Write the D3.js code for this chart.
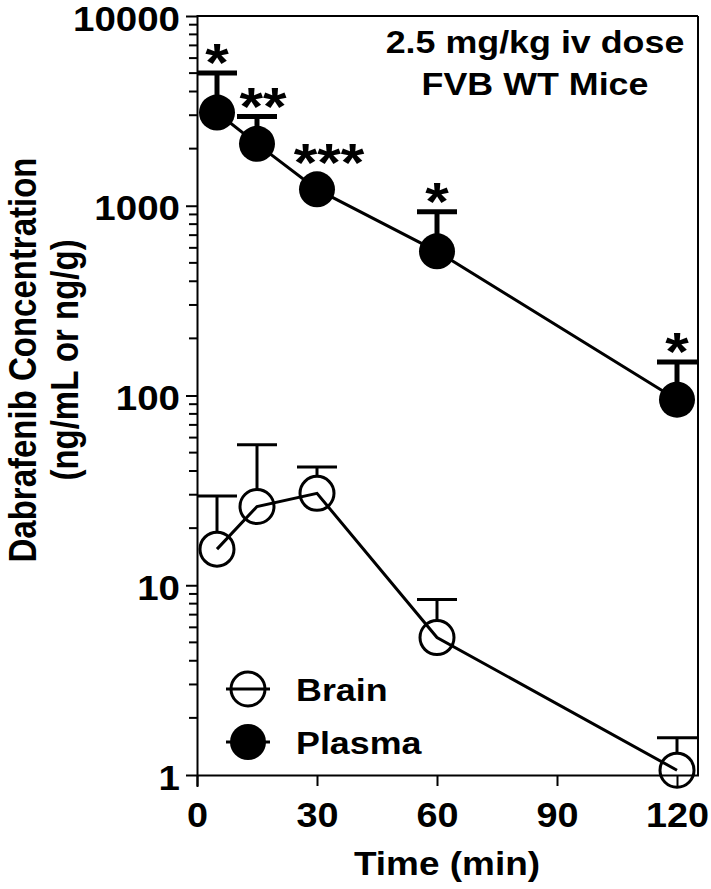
<!DOCTYPE html>
<html>
<head>
<meta charset="utf-8">
<script src="https://cdn.jsdelivr.net/npm/d3@7"></script>
<style>
  html, body { margin: 0; padding: 0; background: #fff; }
  svg text { font-family: "Liberation Sans", Arial, Helvetica, sans-serif; font-weight: bold; fill: #000; }
</style>
</head>
<body>
<svg id="chart" width="711" height="889"></svg>
<script>
// ---- data ----
const times = [5, 15, 30, 60, 120];
const plasmaMean = [3100, 2120, 1220, 575, 95];
const plasmaUpper = [5000, 2950, 1300, 930, 150];
const brainMean = [15.5, 26, 30.5, 5.3, 1.06];
const brainUpper = [29.5, 55, 42, 8.4, 1.57];
const sigLabels = ["*", "**", "***", "*", "*"];
const xTicks = [0, 30, 60, 90, 120];
const yTicks = [1, 10, 100, 1000, 10000];
const legendLabels = ["Brain", "Plasma"];
const annotation = ["2.5 mg/kg iv dose", "FVB WT Mice"];
const xTitle = "Time (min)";
const yTitle = ["Dabrafenib Concentration", "(ng/mL or ng/g)"];

// ---- layout ----
const L = 197, R = 697, T = 16, B = 775;
const SX = 1.12;           // horizontal stretch of the lettering
const svg = d3.select("#chart");
const x = d3.scaleLinear().domain([0, 125]).range([L, R]);
const y = d3.scaleLog().domain([1, 10000]).range([B, T]);

function label(px, py, str, size, anchor, sx) {
  return svg.append("text")
    .attr("transform", `translate(${px},${py}) scale(${sx || SX},1)`)
    .attr("text-anchor", anchor || "start")
    .style("font-size", size + "px").text(str);
}

// frame (top & right)
svg.append("line").attr("x1", L).attr("x2", R + 1).attr("y1", T).attr("y2", T)
  .attr("stroke", "#000").attr("stroke-width", 2);
svg.append("line").attr("x1", R + 1).attr("x2", R + 1).attr("y1", T).attr("y2", B)
  .attr("stroke", "#000").attr("stroke-width", 2);

// x axis
const xAxis = d3.axisBottom(x).tickValues(xTicks).tickSize(11).tickSizeOuter(0);
const gx = svg.append("g").attr("transform", `translate(0,${B})`).call(xAxis);
gx.select(".domain").attr("stroke-width", 2).attr("d", `M${L},0.5H${R + 2}`);
gx.selectAll(".tick line").attr("stroke-width", 2);
gx.selectAll(".tick text").attr("y", null).attr("dy", null)
  .attr("transform", `translate(0,52) scale(1.08,1)`)
  .style("font-size", "35px");

// y axis: minor ticks
const minor = [];
for (let d = 1; d < 10000; d *= 10) for (let k = 2; k <= 9; k++) minor.push(d * k);
svg.append("g").selectAll("line").data(minor).join("line")
  .attr("x1", L - 8).attr("x2", L).attr("y1", d => y(d)).attr("y2", d => y(d))
  .attr("stroke", "#000").attr("stroke-width", 2);
const yAxis = d3.axisLeft(y).tickValues(yTicks).tickFormat(d3.format("d")).tickSize(11).tickSizeOuter(0);
const gy = svg.append("g").attr("transform", `translate(${L},0)`).call(yAxis);
gy.select(".domain").attr("stroke-width", 2).attr("d", `M0.5,${T - 1}V${B + 12}`);
gy.selectAll(".tick line").attr("stroke-width", 2);
gy.selectAll(".tick text").attr("x", null).attr("dy", null)
  .attr("transform", `translate(-17,14) scale(1.1,1)`)
  .style("font-size", "35px");

// axis titles
label((L + R) / 2, 875, xTitle, 33, "middle");
yTitle.forEach((t, i) => {
  svg.append("text").attr("transform", `translate(${36 + i * 42},360) rotate(-90) scale(1,1.16)`)
    .attr("text-anchor", "middle").style("font-size", "33px").text(t);
});

// annotation
annotation.forEach((t, i) => label(535, 53 + i * 42, t, 32, "middle"));

const plasma = times.map((t, i) => ({ t, m: plasmaMean[i], u: plasmaUpper[i], s: sigLabels[i] }));
const brain = times.map((t, i) => ({ t, m: brainMean[i], u: brainUpper[i] }));
const line = d3.line().x(d => x(d.t)).y(d => y(d.m));
const R_M = 17;

// lines
svg.append("path").datum(plasma).attr("d", line).attr("fill", "none").attr("stroke", "#000").attr("stroke-width", 3);
svg.append("path").datum(brain).attr("d", line).attr("fill", "none").attr("stroke", "#000").attr("stroke-width", 3);

// error bars
function errBars(data, sw, fromEdge) {
  const g = svg.append("g").attr("stroke", "#000").attr("stroke-width", sw);
  const hidden = d => (y(d.m) - R_M <= y(d.u) ? "none" : null);
  g.selectAll(".v").data(data).join("line")
    .attr("x1", d => x(d.t)).attr("x2", d => x(d.t))
    .attr("y1", d => y(d.m) - (fromEdge ? R_M : 0)).attr("y2", d => y(d.u))
    .style("display", hidden);
  g.selectAll(".c").data(data).join("line")
    .attr("x1", d => x(d.t) - 20).attr("x2", d => x(d.t) + 20)
    .attr("y1", d => y(d.u)).attr("y2", d => y(d.u))
    .style("display", hidden);
}
errBars(plasma, 5, false);
errBars(brain, 3, true);

// markers
svg.append("g").selectAll("circle").data(brain).join("circle")
  .attr("cx", d => x(d.t)).attr("cy", d => y(d.m)).attr("r", R_M)
  .attr("fill", "none").attr("stroke", "#000").attr("stroke-width", 3);
svg.append("g").selectAll("circle").data(plasma).join("circle")
  .attr("cx", d => x(d.t)).attr("cy", d => y(d.m)).attr("r", R_M + 1)
  .attr("fill", "#000");

// significance asterisks
const AFS = 54;
plasma.forEach(d => {
  const top = Math.min(y(d.u), y(d.m) - R_M);
  const cy = top - 15;
  label(x(d.t) + (d.s.length - 1) * 6, cy + 0.43 * AFS, d.s, AFS, "middle");
});

// legend
const legY = [689, 742];
legendLabels.forEach((lab, i) => {
  const g = svg.append("g").attr("transform", `translate(248,${legY[i]})`);
  g.append("line").attr("x1", -22).attr("x2", 22).attr("stroke", "#000").attr("stroke-width", 3);
  if (i === 0) g.append("circle").attr("r", R_M).attr("fill", "none").attr("stroke", "#000").attr("stroke-width", 3);
  else g.append("circle").attr("r", R_M + 1).attr("fill", "#000");
  label(296, legY[i] + 12, lab, 32, "start");
});
</script>
</body>
</html>
